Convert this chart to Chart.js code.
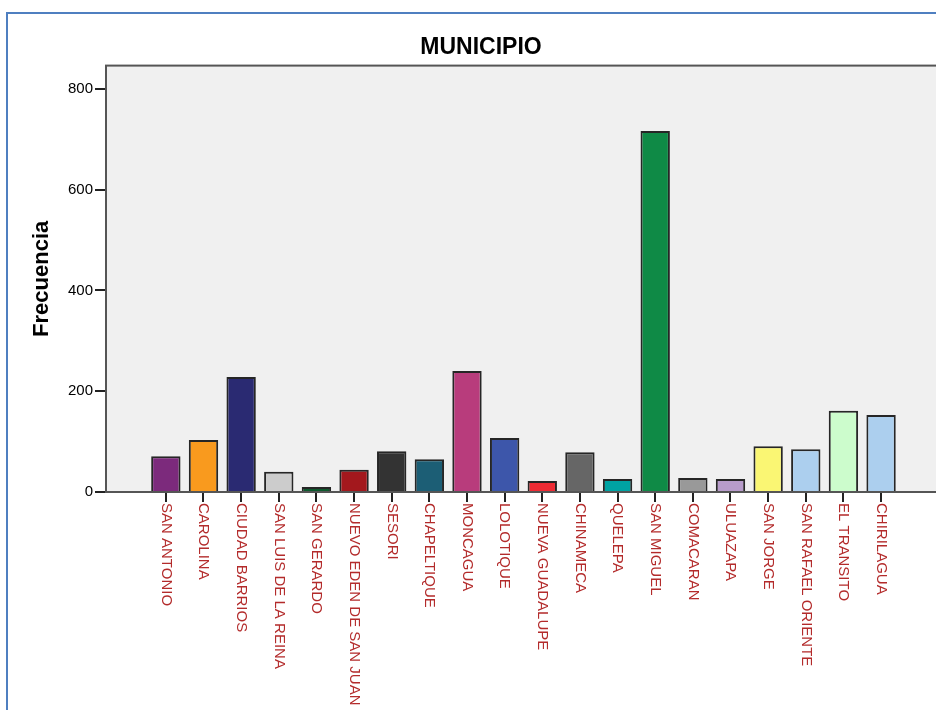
<!DOCTYPE html>
<html>
<head>
<meta charset="utf-8">
<script src="https://cdn.jsdelivr.net/npm/chart.js@4/dist/chart.umd.min.js"></script>
<style>
  html, body { margin: 0; padding: 0; background: #fff; overflow: hidden; }
  #wrap { position: relative; width: 936px; height: 710px; overflow: hidden; }
  #frame {
    position: absolute; left: 6px; top: 12px; width: 2000px; height: 2000px;
    border-left: 2px solid #4f7fc0; border-top: 2px solid #4f7fc0;
    pointer-events: none;
  }
  canvas { position: absolute; left: 0; top: 0; }
</style>
</head>
<body>
<div id="wrap">
  <canvas id="chart" width="1000" height="710"></canvas>
  <div id="frame"></div>
</div>
<script>
const municipios = ['SAN ANTONIO', 'CAROLINA', 'CIUDAD BARRIOS', 'SAN LUIS DE LA REINA', 'SAN GERARDO',
  'NUEVO EDEN DE SAN JUAN', 'SESORI', 'CHAPELTIQUE', 'MONCAGUA', 'LOLOTIQUE', 'NUEVA GUADALUPE',
  'CHINAMECA', 'QUELEPA', 'SAN MIGUEL', 'COMACARAN', 'ULUAZAPA', 'SAN JORGE', 'SAN RAFAEL ORIENTE',
  'EL TRANSITO', 'CHIRILAGUA'];
const frecuencias = [71, 103, 228, 40, 10, 44, 81, 65, 240, 107, 22, 79, 26, 716, 28, 26, 91, 85, 161, 153];
const barColors = ['#7c2a7c', '#f99a1e', '#2a2a72', '#cccccc', '#0e5a2e', '#a3181d', '#333333', '#1c5e75',
  '#b83c7c', '#3d56aa', '#ee2b34', '#666666', '#00a3a3', '#0f8a46', '#999999', '#b89ccb', '#faf673',
  '#accfee', '#ccfccc', '#accfee'];
const yTicks = [0, 200, 400, 600, 800];

const FONT = "'Liberation Sans', Arial, sans-serif";

// gray plot background + frame
const plotFrame = {
  id: 'plotFrame',
  beforeDraw(chart) {
    const { ctx, chartArea: a } = chart;
    ctx.save();
    ctx.fillStyle = '#f0f0f0';
    ctx.fillRect(a.left, a.top, a.right - a.left, a.bottom - a.top);
    ctx.strokeStyle = '#555';
    ctx.lineWidth = 2;
    ctx.strokeRect(a.left, a.top, a.right - a.left, a.bottom - a.top);
    ctx.restore();
  }
};

// x labels read top to bottom, starting under each tick
const xLabels = {
  id: 'xLabels',
  afterDraw(chart) {
    const { ctx } = chart;
    const scale = chart.scales.x;
    ctx.save();
    ctx.font = '15px ' + FONT;
    ctx.fillStyle = '#b32b2b';
    ctx.textAlign = 'left';
    ctx.textBaseline = 'middle';
    scale.getLabels().forEach((label, i) => {
      const x = scale.getPixelForTick(i);
      ctx.save();
      ctx.translate(x, scale.top + 11);
      ctx.rotate(Math.PI / 2);
      ctx.fillText(label, 0, 0);
      ctx.restore();
    });
    ctx.restore();
  }
};

new Chart(document.getElementById('chart').getContext('2d'), {
  type: 'bar',
  data: {
    labels: municipios,
    datasets: [{
      label: 'Frecuencia',
      data: frecuencias,
      backgroundColor: barColors,
      borderColor: 'rgba(15,15,15,0.9)',
      borderWidth: 2,
      borderSkipped: 'bottom',
      barPercentage: 0.78,
      categoryPercentage: 1
    }]
  },
  options: {
    responsive: false,
    animation: false,
    layout: { padding: { left: 0, right: 38, top: 0, bottom: 0 } },
    plugins: {
      legend: { display: false },
      tooltip: { enabled: false },
      title: {
        display: true,
        text: 'MUNICIPIO',
        color: '#000',
        font: { family: FONT, size: 23, weight: 'bold' },
        padding: { top: 34, bottom: 4 }
      }
    },
    scales: {
      x: {
        offset: true,
        grid: { offset: false, drawOnChartArea: false, tickLength: 10, color: '#222', lineWidth: 2 },
        border: { color: '#555', width: 2 },
        ticks: { display: false },
        afterBuildTicks(scale) {
          // SPSS leaves extra room on both sides of the categories
          scale._startValue -= 1.09;
          scale._valueRange += 2.74;
        },
        afterFit(scale) { scale.height = 218; }
      },
      y: {
        min: 0,
        max: 846,
        grid: { drawOnChartArea: false, tickLength: 11, color: '#222', lineWidth: 2 },
        border: { color: '#555', width: 2 },
        ticks: { color: '#000', font: { family: FONT, size: 15 }, padding: 2 },
        afterBuildTicks(scale) { scale.ticks = yTicks.map(v => ({ value: v })); },
        afterFit(scale) { scale.width = 106; },
        title: {
          display: true,
          text: 'Frecuencia',
          color: '#000',
          font: { family: FONT, size: 22, weight: 'bold' },
          padding: { top: 29, bottom: 0 }
        }
      }
    }
  },
  plugins: [plotFrame, xLabels]
});
</script>
</body>
</html>
